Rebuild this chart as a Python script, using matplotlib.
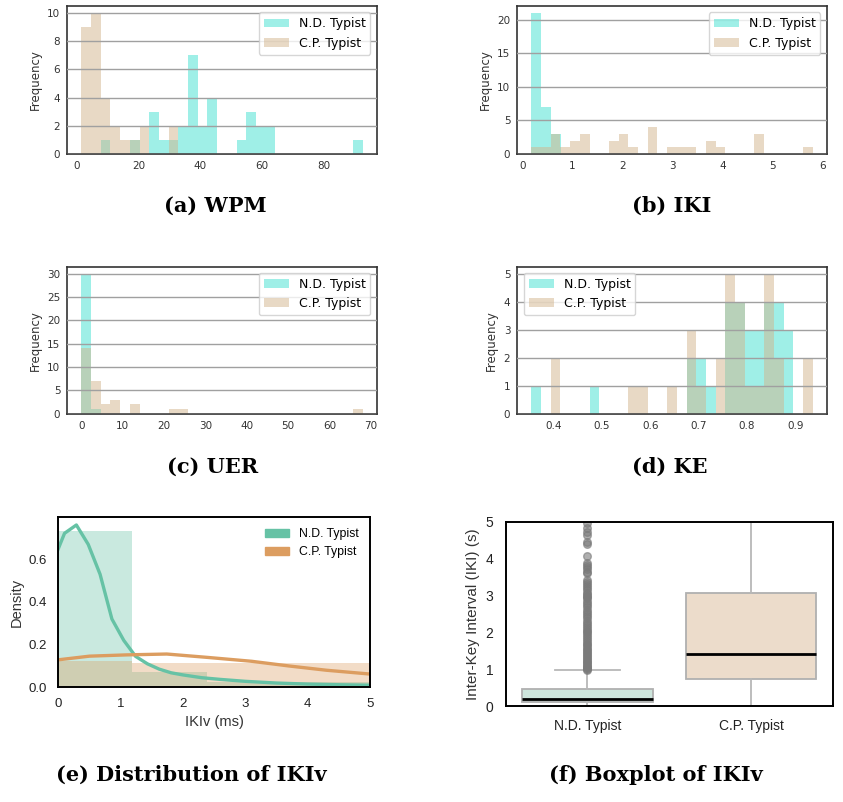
import numpy as np
import matplotlib
matplotlib.use("Agg")
import matplotlib.pyplot as plt
from matplotlib.patches import Patch

labels = ["N.D. Typist", "C.P. Typist"]

# (a) WPM: (first edge, last edge) and counts per bin
wpm_nd_range = (7.7, 92.75)
wpm_nd_counts = [1, 0, 0, 1, 0, 3, 1, 1, 2, 7, 2, 4, 0, 0, 1, 3, 2, 2,
                 0, 0, 0, 0, 0, 0, 0, 0, 1]
wpm_cp_range = (1.4, 32.9)
wpm_cp_counts = [9, 10, 4, 2, 1, 1, 2, 0, 0, 2]

# (b) IKI
iki_nd_range = (0.174, 0.759)
iki_nd_counts = [21, 7, 3]
iki_cp_range = (0.174, 5.81)
iki_cp_counts = [1, 1, 3, 1, 2, 3, 0, 0, 2, 3, 1, 0, 4, 0, 1, 1, 1, 0, 2, 1,
                 0, 0, 0, 3, 0, 0, 0, 0, 1]

# (c) UER
uer_nd_range = (0.0, 4.68)
uer_nd_counts = [30, 1]
uer_cp_range = (0.0, 68.0)
uer_cp_counts = [14, 7, 2, 3, 0, 2, 0, 0, 0, 1, 1, 0, 0, 0, 0, 0, 0, 0, 0, 0,
                 0, 0, 0, 0, 0, 0, 0, 0, 1]

# (d) KE
ke_nd_range = (0.3536, 0.9362)
ke_nd_counts = [1, 0, 0, 0, 0, 0, 1, 0, 0, 0, 0, 0, 0, 0, 0, 0, 2, 2, 1, 0,
                4, 4, 3, 3, 4, 4, 3, 0, 0]
ke_cp_range = (0.3536, 0.9362)
ke_cp_counts = [0, 0, 2, 0, 0, 0, 0, 0, 0, 0, 1, 1, 0, 0, 1, 0, 3, 1, 0, 2,
                5, 4, 1, 1, 5, 2, 0, 0, 2]

# (e) IKIv density histograms and kde curves
ikiv_nd_edges = [0, 1.19, 2.38, 3.57, 4.76, 5.95]
ikiv_nd_density = [0.735, 0.070, 0.026, 0.025, 0.024]
ikiv_cp_edges = [0, 1.19, 6.0]
ikiv_cp_density = [0.122, 0.114]
kde_nd_x = [-0.09, 0.10, 0.29, 0.48, 0.67, 0.86, 1.05, 1.24, 1.43, 1.62, 1.81,
            2.0, 2.3, 2.6, 3.0, 3.5, 4.0, 4.5, 5.2]
kde_nd_y = [0.585, 0.722, 0.761, 0.670, 0.53, 0.32, 0.22, 0.145, 0.11, 0.085,
            0.068, 0.058, 0.045, 0.037, 0.028, 0.020, 0.015, 0.012, 0.009]
kde_cp_x = [-0.2, 0.5, 1.1, 1.74, 2.4, 3.1, 3.7, 4.3, 5.2]
kde_cp_y = [0.122, 0.146, 0.152, 0.156, 0.140, 0.122, 0.100, 0.080, 0.057]

# (f) IKIv boxplot summary
box_med = [0.21, 1.43]
box_q1 = [0.13, 0.74]
box_q3 = [0.47, 3.08]
box_lo = [0.01, 0.005]
box_hi = [0.99, 6.5]
nd_fliers = [0.98, 1.01, 1.04, 1.07, 1.1, 1.13, 1.16, 1.2, 1.24, 1.28, 1.32,
             1.36, 1.4, 1.44, 1.48, 1.52, 1.56, 1.6, 1.65, 1.7, 1.75, 1.8,
             1.85, 1.9, 1.95, 2.0, 2.05, 2.1, 2.15, 2.2, 2.26, 2.32, 2.38,
             2.44, 2.5, 2.56, 2.62, 2.68, 2.74, 2.8, 2.86, 2.92, 2.97, 3.0,
             3.03, 3.08, 3.14, 3.2, 3.26, 3.32, 3.37, 3.42, 3.6, 3.65, 3.72,
             3.78, 3.83, 3.88, 4.07, 4.4, 4.46, 4.64, 4.73, 4.82, 4.96]

teal = "turquoise"
tan = "tan"
green = "#66c2a5"
orange = "#dc9d60"

fig = plt.figure(figsize=(8.43, 8.02), dpi=100)
W, H = 843.0, 802.0


def add_ax(l, t, r, b):
    return fig.add_axes([l / W, 1 - b / H, (r - l) / W, (b - t) / H])


def hist_panel(ax, nd_range, nd_counts, cp_range, cp_counts, loc):
    for rng, cnt, col, lab in ((nd_range, nd_counts, teal, labels[0]),
                               (cp_range, cp_counts, tan, labels[1])):
        edges = np.linspace(rng[0], rng[1], len(cnt) + 1)
        ax.hist(edges[:-1], bins=edges, weights=cnt, color=col, alpha=0.5,
                label=lab)
    ax.set_ylabel("Frequency", fontsize=8.5, color="#333333")
    ax.grid(axis="y", color="#a0a0a0", lw=1)
    ax.set_axisbelow(False)
    ax.tick_params(labelsize=7.5, length=0, pad=5, colors="#333333")
    for s in ax.spines.values():
        s.set_color("#333333")
        s.set_linewidth(1.2)
    ax.legend(loc=loc, fontsize=9)


ax_a = add_ax(67.3, 6, 376.7, 154)
hist_panel(ax_a, wpm_nd_range, wpm_nd_counts, wpm_cp_range, wpm_cp_counts, "upper right")
ax_b = add_ax(517.3, 6, 826.7, 154)
hist_panel(ax_b, iki_nd_range, iki_nd_counts, iki_cp_range, iki_cp_counts, "upper right")
ax_c = add_ax(67.3, 266.7, 376.7, 413.7)
hist_panel(ax_c, uer_nd_range, uer_nd_counts, uer_cp_range, uer_cp_counts, "upper right")
ax_d = add_ax(517.3, 266.7, 826.7, 413.7)
hist_panel(ax_d, ke_nd_range, ke_nd_counts, ke_cp_range, ke_cp_counts, "upper left")

sans = "Liberation Sans"

# (e)
ax_e = add_ax(58.3, 517.3, 370, 687.3)
ax_e.hist(ikiv_nd_edges[:-1], bins=ikiv_nd_edges, weights=ikiv_nd_density,
          color=green, alpha=0.35)
ax_e.hist(ikiv_cp_edges[:-1], bins=ikiv_cp_edges, weights=ikiv_cp_density,
          color=orange, alpha=0.35)
ax_e.plot(kde_nd_x, kde_nd_y, color=green, lw=2.4)
ax_e.plot(kde_cp_x, kde_cp_y, color=orange, lw=2.4)
ax_e.set_xlim(0, 5)
ax_e.set_ylim(0, 0.797)
ax_e.set_yticks([0.0, 0.2, 0.4, 0.6])
ax_e.set_xlabel("IKIv (ms)", family=sans, fontsize=10.5, color="#333333",
                labelpad=3)
ax_e.set_ylabel("Density", family=sans, fontsize=10.5, color="#333333")
ax_e.tick_params(length=0, pad=8, colors="#222222")
for t in ax_e.get_xticklabels() + ax_e.get_yticklabels():
    t.set_family(sans)
    t.set_fontsize(9.5)
for s in ax_e.spines.values():
    s.set_color("black")
    s.set_linewidth(1.4)
ax_e.legend(handles=[Patch(color=green), Patch(color=orange)], labels=labels,
            loc="upper right", frameon=False, prop={"family": sans, "size": 8.8})

# (f)
ax_f = add_ax(505.7, 521.7, 832.7, 706.3)
stats = []
for i in range(2):
    stats.append(dict(med=box_med[i], q1=box_q1[i], q3=box_q3[i],
                      whislo=box_lo[i], whishi=box_hi[i],
                      fliers=nd_fliers if i == 0 else [], label=labels[i]))
bp = ax_f.bxp(stats, positions=[0, 1], widths=0.8, capwidths=0.4,
              patch_artist=True,
              boxprops=dict(edgecolor="#b0b0b0", linewidth=1.3),
              whiskerprops=dict(color="#b8b8b8", linewidth=1.3),
              capprops=dict(color="#b8b8b8", linewidth=1.3),
              medianprops=dict(color="black", linewidth=2),
              flierprops=dict(marker="o", markersize=5.5, markerfacecolor="#7a7a7a",
                              markeredgecolor="#7a7a7a", alpha=0.6))
for patch, fc in zip(bp["boxes"], ["#cde5dc", "#ecdccb"]):
    patch.set_facecolor(fc)
ax_f.set_xlim(-0.5, 1.5)
ax_f.set_ylim(0, 5)
ax_f.set_ylabel("Inter-Key Interval (IKI) (s)", family=sans, fontsize=11,
                color="#333333")
ax_f.tick_params(length=0, pad=9, colors="#222222")
for t in ax_f.get_xticklabels() + ax_f.get_yticklabels():
    t.set_family(sans)
    t.set_fontsize(10)
for s in ax_f.spines.values():
    s.set_color("black")
    s.set_linewidth(1.4)

# sub-captions
caps = [("(a) WPM", 215, 206), ("(b) IKI", 672, 206),
        ("(c) UER", 213, 467), ("(d) KE", 670, 467),
        ("(e) Distribution of IKIv", 191, 775),
        ("(f) Boxplot of IKIv", 656, 775)]
for txt, x, y in caps:
    fig.text(x / W, 1 - y / H, txt, ha="center", va="center",
             family="DejaVu Serif", weight="bold", fontsize=15)

fig.savefig("out.png", dpi=100)
